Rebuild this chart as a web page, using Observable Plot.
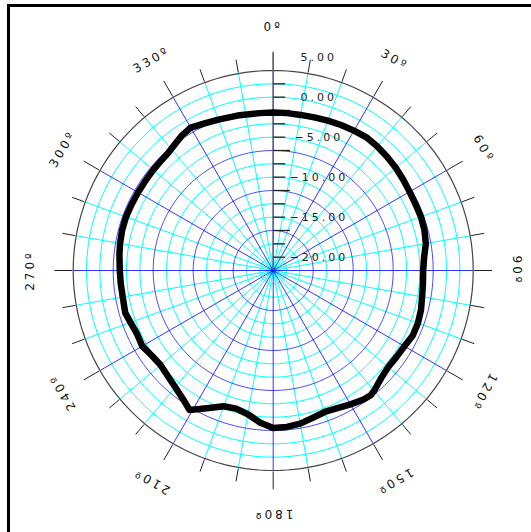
<!DOCTYPE html>
<html><head><meta charset="utf-8">
<script src="https://cdn.jsdelivr.net/npm/d3@7"></script>
<script src="https://cdn.jsdelivr.net/npm/@observablehq/plot@0.6"></script>
<style>
html,body{margin:0;padding:0;background:#fff;overflow:hidden;}
#wrap{position:relative;width:531px;height:532px;overflow:hidden;}
.bar{position:absolute;background:#000;pointer-events:none;}
#barL{left:7px;top:4px;width:3px;height:528px;}
#barT{left:7px;top:4px;width:524px;height:3px;}
svg{display:block;}
</style></head><body>
<div id="wrap"><div id="chart"></div><div class="bar" id="barL"></div><div class="bar" id="barT"></div></div>
<script>
// Measured pattern: azimuth (deg, clockwise from top) and gain (dB)
const angleDeg = [0,5,10,15,20,25,30,35,40,45,50,55,60,65,70,75,80,85,90,95,100,105,110,115,120,125,130,135,140,142,145,150,155,160,165,170,175,180,185,190,195,200,205,208,211,215,220,225,230,235,240,245,250,254,260,265,270,276,280,285,290,295,300,305,310,315,318,322,326,330,335,340,347,355];
const gainDb = [-1.92,-1.92,-1.92,-1.85,-1.73,-1.60,-1.48,-1.35,-1.42,-1.54,-1.67,-1.84,-1.98,-2.04,-2.02,-2.10,-2.29,-2.73,-2.92,-2.88,-2.77,-2.54,-2.42,-2.42,-2.73,-2.85,-2.89,-2.60,-2.04,-1.87,-1.98,-2.35,-2.67,-2.85,-2.60,-2.23,-2.04,-1.98,-2.60,-3.42,-3.79,-3.60,-2.70,-2.05,-1.34,-2.03,-2.62,-3.03,-3.28,-3.13,-2.77,-2.89,-2.68,-2.43,-2.57,-2.54,-2.49,-2.34,-2.23,-2.12,-2.09,-2.13,-2.15,-2.15,-2.10,-2.04,-1.97,-1.67,-1.29,-1.04,-1.38,-1.60,-1.79,-1.92];

// Radial axis
const centerDb = -21.667;          // value at the pole
const ringStepDb = 5 / 3;          // grid ring spacing
const ringCount = 15;              // outer ring = 15 steps
const radialTickValues = [5, 0, -5, -10, -15, -20];
const radialTickLabels = ["5.00", "0.00", "\u22125.00", "\u221210.00", "\u221215.00", "\u221220.00"];

// Angular axis
const spokeAngles = d3.range(0, 360, 10);
const angleLabelAngles = [0, 30, 60, 90, 120, 150, 180, 210, 240, 270, 300, 330];
const angleLabels = ["0º", "30º", "60º", "90º", "120º", "150º", "180º", "210º", "240º", "270º", "300º", "330º"];

const rad = a => a * Math.PI / 180;
const X = (a, rho) => rho * Math.sin(rad(a));
const Y = (a, rho) => rho * Math.cos(rad(a));

const outerRho = ringCount * ringStepDb;   // 25
const CYAN = "#00ffff", BLUE = "#0000ff";

const rings = d3.range(1, ringCount + 1).flatMap(k =>
  d3.range(0, 361, 2).map(a => ({k, a, rho: k * ringStepDb})));
const ringColor = k => k === ringCount ? "#444" : (k % 3 === 0 ? BLUE : CYAN);

const spokes = spokeAngles.map(a => ({a}));
const pattern = angleDeg.map((a, i) => ({a, v: gainDb[i]}));
const axisTicks = d3.range(1, ringCount).map(k => ({k, rho: k * ringStepDb}));

const cxPx = 272.7, cyPx = 270, pxPerDb = 8, W = 531, H = 532;

const chart = Plot.plot({
  width: W, height: H,
  margin: 0,
  x: {domain: [-cxPx / pxPerDb, (W - cxPx) / pxPerDb], range: [0, W], axis: null},
  y: {domain: [-(H - cyPx) / pxPerDb, cyPx / pxPerDb], range: [H, 0], axis: null},
  style: {background: "transparent", letterSpacing: "3px"},
  marks: [
    // cyan rings and spokes
    Plot.line(rings.filter(d => ringColor(d.k) === CYAN), {x: d => X(d.a, d.rho), y: d => Y(d.a, d.rho), z: "k", stroke: CYAN, strokeWidth: 1}),
    Plot.link(spokes.filter(d => d.a % 30 !== 0), {x1: () => 0, y1: () => 0, x2: d => X(d.a, outerRho), y2: d => Y(d.a, outerRho), stroke: CYAN, strokeWidth: 1}),
    // blue rings and spokes
    Plot.line(rings.filter(d => ringColor(d.k) === BLUE), {x: d => X(d.a, d.rho), y: d => Y(d.a, d.rho), z: "k", stroke: BLUE, strokeWidth: 1, strokeOpacity: 0.7}),
    Plot.link(spokes.filter(d => d.a % 30 === 0), {x1: () => 0, y1: () => 0, x2: d => X(d.a, outerRho), y2: d => Y(d.a, outerRho), stroke: BLUE, strokeWidth: 1, strokeOpacity: 0.8}),
    // outer circle
    Plot.line(rings.filter(d => d.k === ringCount), {x: d => X(d.a, d.rho), y: d => Y(d.a, d.rho), stroke: "#444", strokeWidth: 1.2}),
    // outer angular ticks
    Plot.link(spokes, {
      x1: d => X(d.a, outerRho + 0.12), y1: d => Y(d.a, outerRho + 0.12),
      x2: d => X(d.a, d.a % 30 === 0 ? 27.35 : 26.75), y2: d => Y(d.a, d.a % 30 === 0 ? 27.35 : 26.75),
      stroke: "#222", strokeWidth: 1
    }),
    // radial axis line (upwards) with ticks
    Plot.link([0], {x1: () => 0, y1: () => 0, x2: () => 0, y2: () => 27.25, stroke: "#666", strokeWidth: 1.5}),
    Plot.link(axisTicks, {x1: () => 0, y1: d => d.rho, x2: d => d.k % 3 === 0 ? 2.1 : 1.5, y2: d => d.rho, stroke: "#222", strokeWidth: 1.3}),
    // radial labels
    Plot.text(radialTickValues, {x: () => 5.7, y: d => d - centerDb, text: (d, i) => radialTickLabels[i], fontSize: 11, fontWeight: "normal", fontFamily: "DejaVu Sans", fill: "#222", textAnchor: "middle"}),
    // angle labels
    Plot.text(angleLabelAngles, {x: d => X(d, 30.4), y: d => Y(d, 30.4), rotate: d => d, text: (d, i) => angleLabels[i], fontSize: 12, fontWeight: "normal", fontFamily: "DejaVu Sans", fill: "#111", textAnchor: "middle"}),
    // pattern
    Plot.line(pattern, {x: d => X(d.a, d.v - centerDb), y: d => Y(d.a, d.v - centerDb), curve: "linear-closed", stroke: "#000", strokeWidth: 6.5, strokeLinejoin: "round"})
  ]
});
document.getElementById("chart").appendChild(chart);
</script>
</body></html>
